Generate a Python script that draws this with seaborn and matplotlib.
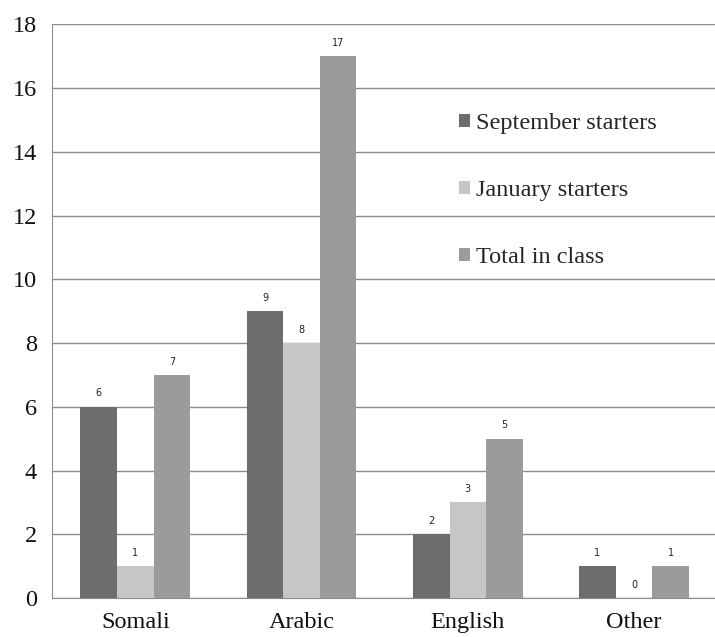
import pandas as pd
import matplotlib.pyplot as plt
import seaborn as sns

# Data
languages = ['Somali', 'Arabic', 'English', 'Other']
september = [6, 9, 2, 1]
january = [1, 8, 3, 0]
total = [7, 17, 5, 1]
series_names = ['September starters', 'January starters', 'Total in class']

df = pd.DataFrame({
    'language': languages * 3,
    'count': september + january + total,
    'group': [s for s in series_names for _ in languages],
})

sns.set_style('white')
plt.rcParams['font.family'] = ['Liberation Serif', 'DejaVu Serif']

fig = plt.figure(figsize=(7.15, 6.37), dpi=100)
ax = fig.add_axes([0.073, 0.061, 0.93, 0.901])

colors = ['#6d6d6d', '#c6c6c6', '#9b9b9b']
sns.barplot(data=df, x='language', y='count', hue='group', palette=colors,
            width=0.66, ax=ax, saturation=1, linewidth=0, zorder=3)

# value labels above bars
for cont in ax.containers:
    ax.bar_label(cont, padding=6, fontsize=7, family='DejaVu Sans', color='#222222')

ax.set_ylim(0, 18)
ax.set_xlim(-0.5, 3.5)
ax.set_yticks(range(0, 19, 2))
ax.yaxis.grid(True, color='#8c8c8c', linewidth=1.0, zorder=0)
ax.set_axisbelow(True)
ax.tick_params(axis='both', labelsize=17.5, colors='#111111', width=0.8)
ax.tick_params(axis='y', length=6, pad=5, color='#8c8c8c')
ax.tick_params(axis='x', length=0, pad=10)
for sp in ['top', 'right']:
    ax.spines[sp].set_visible(False)
ax.spines['left'].set_color('#8c8c8c')
ax.spines['bottom'].set_color('#8c8c8c')
ax.set_xlabel('')
ax.set_ylabel('')

handles, labels = ax.get_legend_handles_labels()
ax.legend(handles, labels, loc='upper left', bbox_to_anchor=(0.625, 0.842),
          bbox_transform=fig.transFigure, frameon=False, fontsize=17.5,
          handlelength=0.45, handleheight=0.45, handletextpad=0.25,
          labelspacing=1.9, borderpad=0)

fig.savefig('out.png', dpi=100)
